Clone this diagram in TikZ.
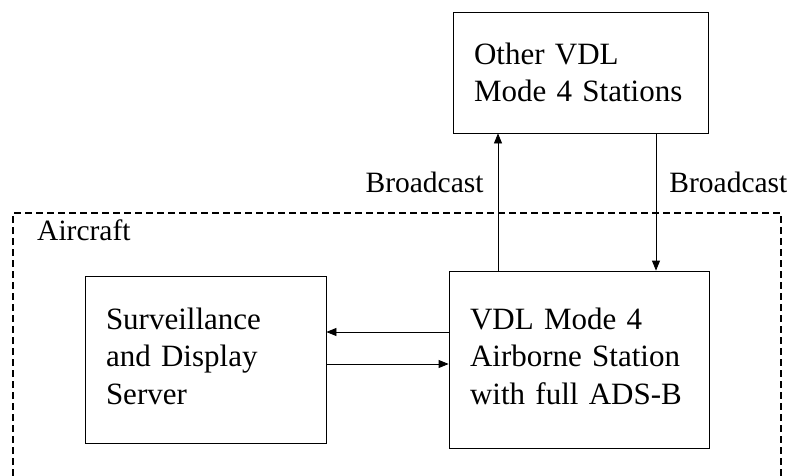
\documentclass[tikz,border=0pt]{standalone}
\usepackage{fontspec}
\setmainfont{Liberation Serif}
\usetikzlibrary{arrows.meta,positioning,calc}
\newcommand{\lowpad}{\rule[-7pt]{0pt}{7pt}}

\begin{document}
\begin{tikzpicture}[
    x=1pt,y=-1pt,
    font=\fontsize{29.5}{37.5}\selectfont,
    box/.style={rectangle,draw,line width=0.8pt,align=left,inner xsep=21pt,inner ysep=0pt,
                font=\fontsize{31}{37.5}\selectfont},
    lbl/.style={inner sep=0pt},
    link/.style={->,line width=0.8pt},
    >={Triangle[length=10pt,width=8pt]}]
    \useasboundingbox (0,0) rectangle (797,476);
    \node[box,minimum width=255,minimum height=121,text width=213] (other) at (580.5,72.5) {Other VDL\\Mode 4 Stations};
    \node[box,minimum width=260,minimum height=177,text width=218] (vdl) at (579,359.5) {VDL Mode 4\\Airborne Station\\with full ADS-B\lowpad};
    \node[box,minimum width=241,minimum height=167,text width=199] (surv) at (205.5,359.5) {Surveillance\\and Display\\Server\lowpad};
    % aircraft frame, open at the bottom
    \draw[line width=1.3pt,dash pattern=on 7pt off 4pt] (13,476) -- (13,213) -- (781,213) -- (781,476);
    \node[lbl,anchor=base west] (aircraft) at (37,240) {Aircraft};
    \coordinate (upx) at (498,0);
    \coordinate (downx) at (656,0);
    \draw[link] (vdl.north -| upx) -- node[lbl,pos=0.64,left=14pt] {Broadcast} (other.south -| upx);
    \draw[link] (other.south -| downx) -- node[lbl,pos=0.36,right=13pt] {Broadcast} (vdl.north -| downx);
    \draw[link] ([yshift=27.5pt]vdl.west) -- ([yshift=27.5pt]vdl.west -| surv.east);
    \draw[link] ([yshift=-4.5pt]surv.east) -- ([yshift=-4.5pt]surv.east -| vdl.west);
\end{tikzpicture}
\end{document}
